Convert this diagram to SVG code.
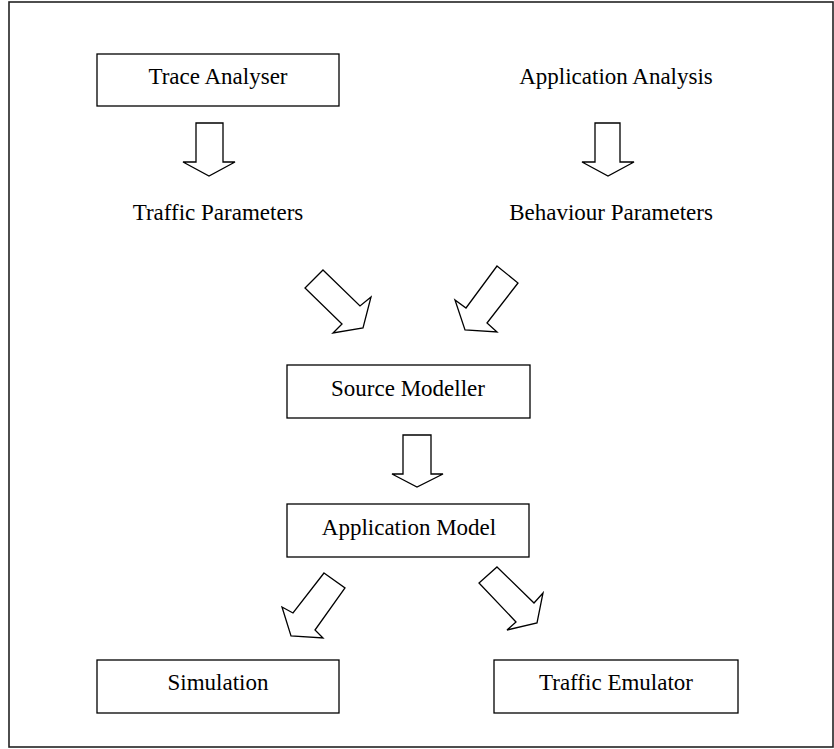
<svg xmlns="http://www.w3.org/2000/svg" width="834" height="749" viewBox="0 0 834 749">
<style>
.box{fill:#fff;stroke:#000;stroke-width:1.3}
.arr{fill:#fff;stroke:#000;stroke-width:1.3;stroke-linejoin:miter}
text{font-family:"Liberation Serif","Times New Roman",serif;font-size:23px;fill:#000;text-anchor:middle}
</style>
<rect x="0" y="0" width="834" height="749" fill="#fff"/>
<rect id="frame" x="9" y="2" width="824" height="745" fill="none" stroke="#222" stroke-width="1.6"/>
<g id="trace-analyser"><rect class="box" x="97" y="54" width="242" height="52"/><text x="218" y="84">Trace Analyser</text></g>
<g id="application-analysis"><text x="616" y="84">Application Analysis</text></g>
<g id="traffic-parameters"><text x="218" y="220">Traffic Parameters</text></g>
<g id="behaviour-parameters"><text x="611" y="220">Behaviour Parameters</text></g>
<g id="source-modeller"><rect class="box" x="287" y="365" width="243" height="53"/><text x="408" y="396">Source Modeller</text></g>
<g id="application-model"><rect class="box" x="287" y="504" width="242" height="53"/><text x="409" y="535">Application Model</text></g>
<g id="simulation"><rect class="box" x="97" y="660" width="242" height="53"/><text x="218" y="690">Simulation</text></g>
<g id="traffic-emulator"><rect class="box" x="494" y="660" width="244" height="53"/><text x="616" y="690">Traffic Emulator</text></g>
<g id="connectors">
<polygon class="arr" points="196,123 223,123 223,162 235,162 209,176 183,162 196,162"/>
<polygon class="arr" points="595,123 620,123 620,162 634,162 608,176 582,162 595,162"/>
<polygon class="arr" points="403,435 431,435 431,474 443,474 417,487 392,474 403,474"/>
<polygon class="arr" points="323,270 360,306 371,297 363,328 333,333 342,324 305,288"/>
<polygon class="arr" points="497,266 518,283 487,323 497,332 465,330 455,300 466,308"/>
<polygon class="arr" points="324,573 345,588 315,630 323,638 291,636 282,607 293,613"/>
<polygon class="arr" points="497,567 534,603 543,593 537,623 507,630 516,622 479,583"/>
</g>
</svg>
